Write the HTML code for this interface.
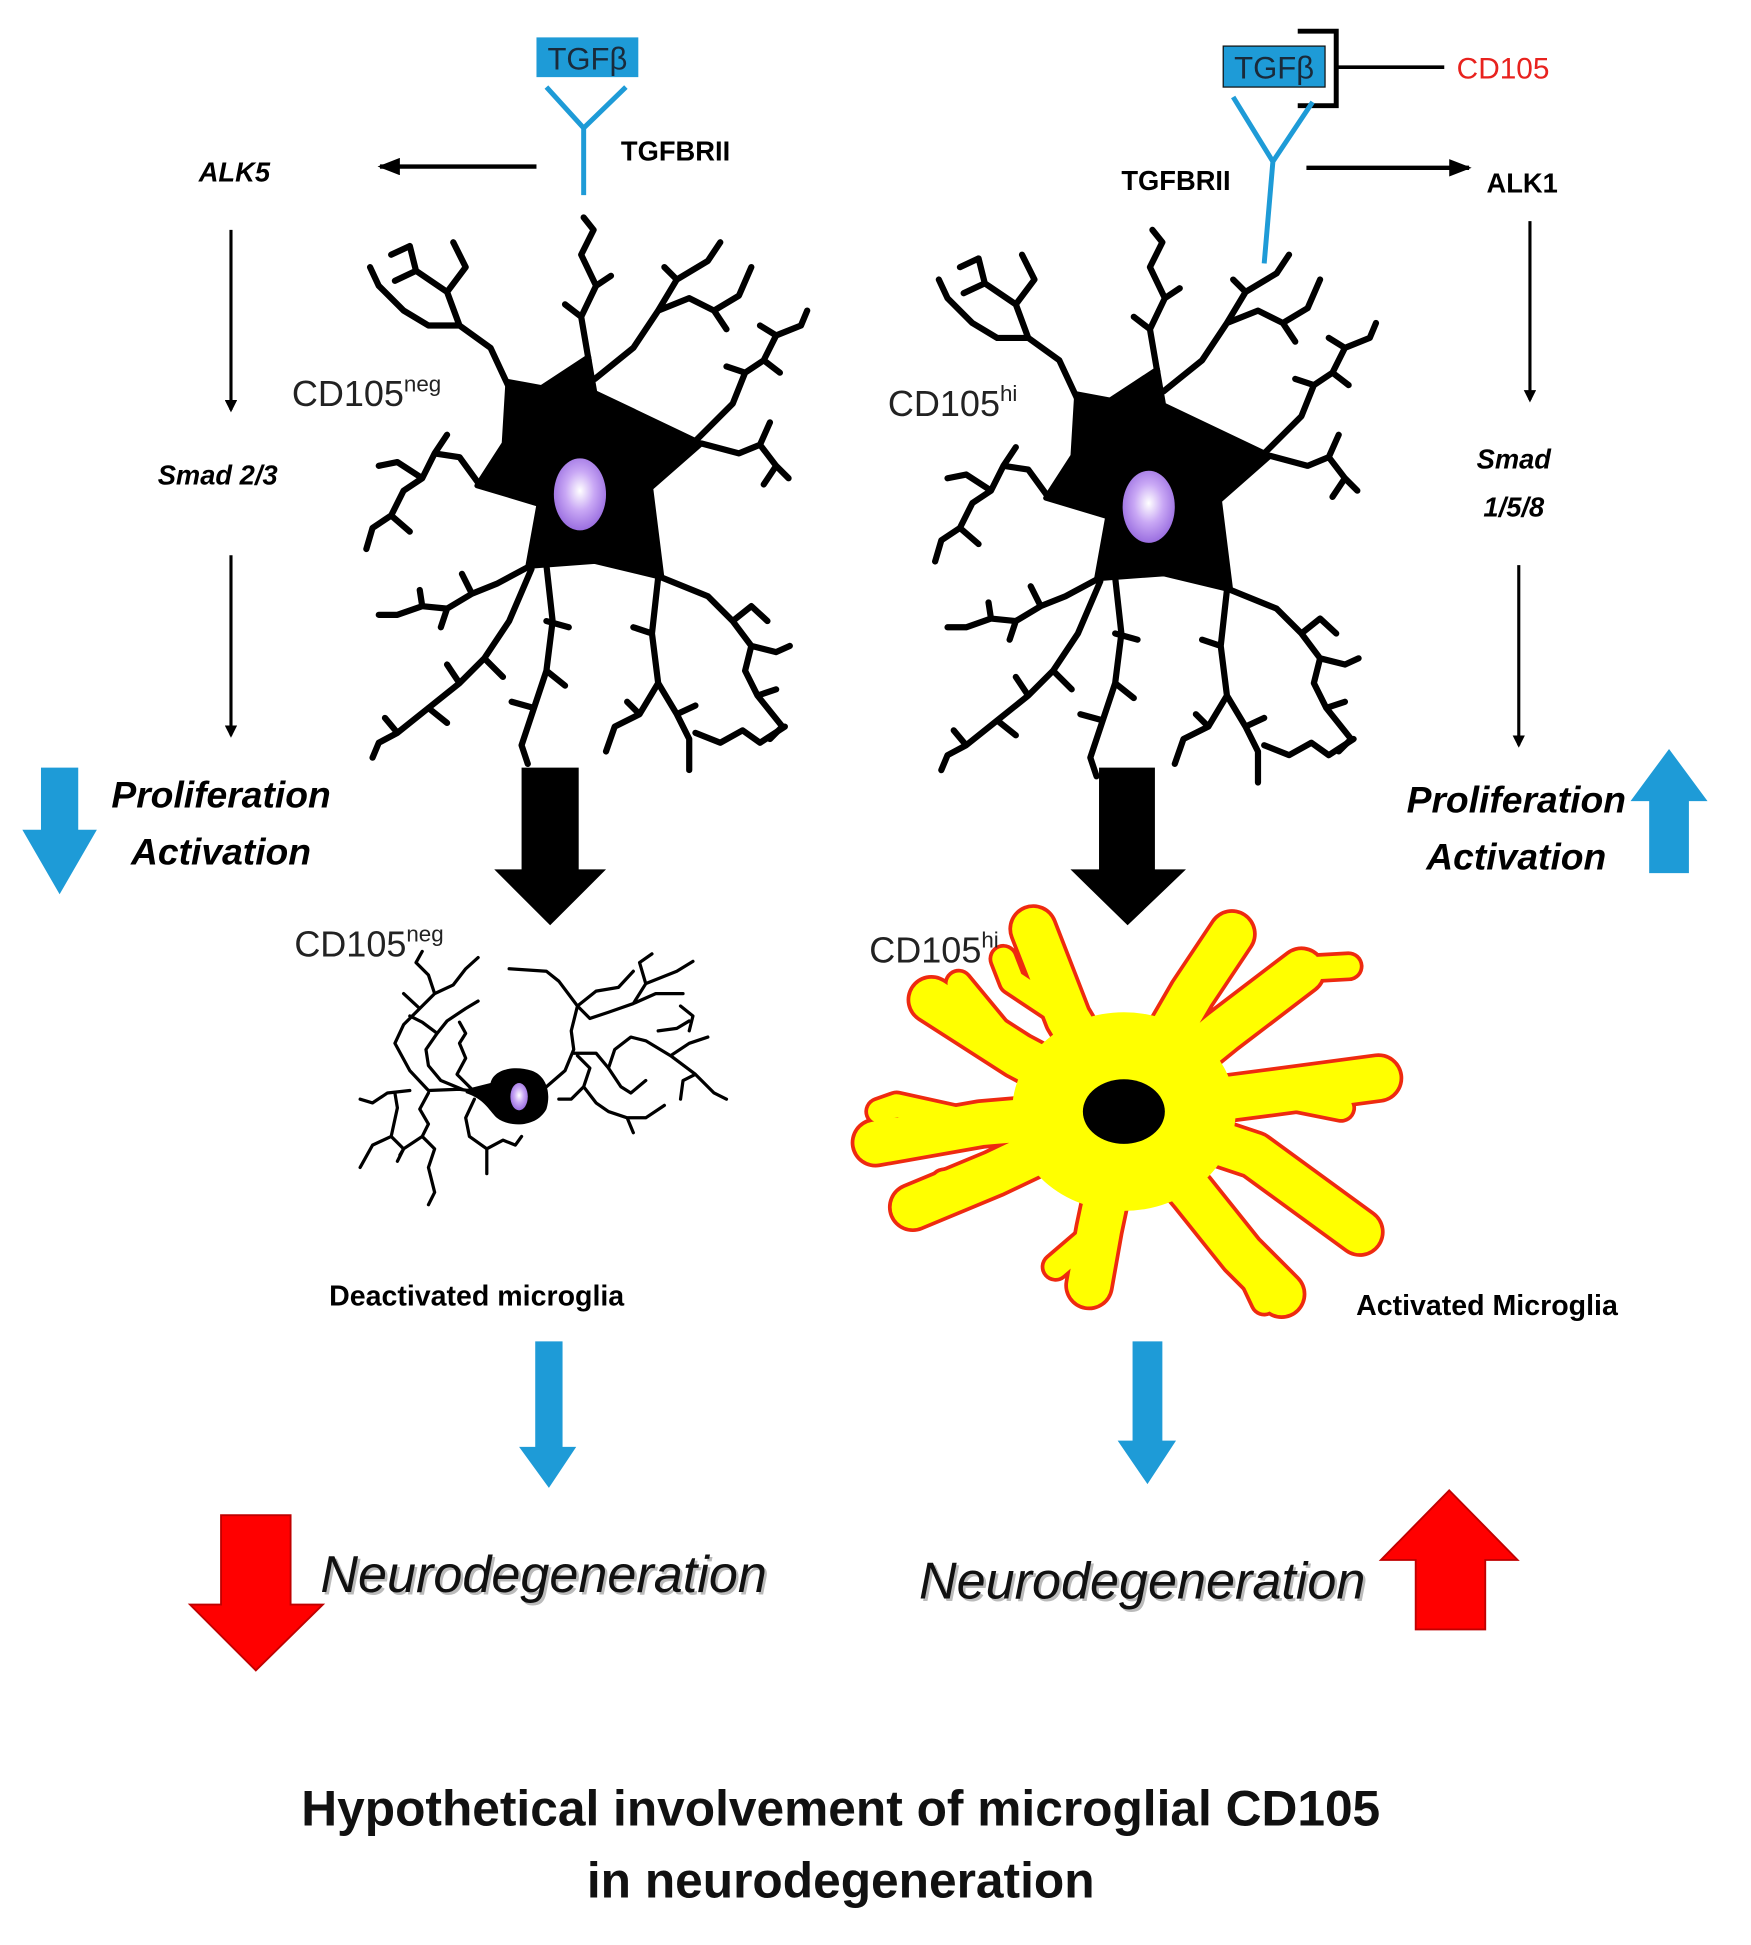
<!DOCTYPE html>
<html><head><meta charset="utf-8"><style>
html,body{margin:0;padding:0;background:#fff}
svg{display:block}
text{font-family:"Liberation Sans",sans-serif}
</style></head><body>
<svg width="1751" height="1945" viewBox="0 0 1410 1566" xmlns="http://www.w3.org/2000/svg">
<defs>
<radialGradient id="nuc" cx="50%" cy="45%" r="55%"><stop offset="0" stop-color="#fff"/><stop offset="0.5" stop-color="#c9a8f5"/><stop offset="1" stop-color="#9a6ee0"/></radialGradient>
<marker id="ah" markerWidth="10" markerHeight="10" refX="8" refY="5" orient="auto" markerUnits="userSpaceOnUse"><path d="M0,0 L10,5 L0,10 Z" fill="#000"/></marker>
<marker id="ah2" markerWidth="18" markerHeight="14" refX="16" refY="7" orient="auto" markerUnits="userSpaceOnUse"><path d="M0,0 L18,7 L0,14 Z" fill="#000"/></marker>
<g id="neuron">
<g fill="none" stroke="#000" stroke-width="5" stroke-linecap="round" stroke-linejoin="round">
<path d="M409,310 L395,280 L370,262 L360,235 L335,218 L330,198 L315,205 M360,235 L375,215 L365,195 M370,262 L345,262 L325,250 L305,230 L298,215 M335,218 L318,226"/>
<path d="M474,290 L468,255 L480,230 L468,205 L478,185 L470,175 M468,255 L455,245 M480,230 L492,222"/>
<path d="M479,305 L510,280 L530,250 L545,225 L570,210 L580,195 M530,250 L555,240 L575,250 L595,238 L605,215 M545,225 L535,215 M575,250 L585,265"/>
<path d="M560,355 L590,325 L600,300 L615,290 L625,270 L645,262 L650,250 M600,300 L585,295 M615,290 L628,300 M625,270 L612,262"/>
<path d="M565,357 L595,365 L612,358 L625,375 L635,385 M612,358 L620,340 M625,375 L615,390"/>
<path d="M386,390 L370,368 L350,365 L340,385 L325,395 L315,415 L300,425 L295,442 M340,385 L320,372 L305,375 M315,415 L330,428 M350,365 L360,350"/>
<path d="M428,455 L400,470 L380,478 L360,490 L340,488 L320,495 L305,495 M360,490 L355,505 M380,478 L372,462 M340,488 L338,475"/>
<path d="M428,458 L410,500 L390,530 L370,550 L345,570 L320,590 L305,598 L300,610 M390,530 L405,545 M370,550 L360,535 M345,570 L360,582 M320,590 L310,578"/>
<path d="M440,455 L445,500 L440,540 L430,570 L420,600 L425,615 M440,500 L458,505 M440,540 L455,552 M430,570 L412,565"/>
<path d="M530,465 L525,510 L530,550 L515,575 L495,585 L488,605 M530,550 L545,575 L555,595 L555,620 M515,575 L505,565 M525,510 L510,505 M545,575 L560,568"/>
<path d="M533,465 L570,480 L590,500 L605,520 L625,525 L636,520 M590,500 L605,488 L618,500 M605,520 L600,540 L610,560 L630,585 M610,560 L625,555 M630,585 L620,595"/>
<path d="M560,590 L580,598 L598,588 L612,598 L632,585"/>
</g>
<path d="M409,307 L436,312 L474,287 L479,316 L565,357 L524,393 L533,465 L479,452 L425,456 L434,406 L384,391 L406,357 Z" fill="#000" stroke="#000" stroke-width="4" stroke-linejoin="round"/>
<ellipse cx="467" cy="398" rx="21" ry="29" fill="url(#nuc)"/>
</g>
</defs>

<!-- LEFT top -->
<rect x="432" y="30" width="82" height="32" fill="#1e9bd7"/>
<text x="473" y="56" font-size="25" text-anchor="middle" fill="#1a2a3a">TGFβ</text>
<path d="M440,70 L470,103 L504,70 M470,103 L470,157" fill="none" stroke="#1e9bd7" stroke-width="4"/>
<text x="500" y="129" font-size="22" font-weight="bold">TGFBRII</text>
<line x1="432" y1="134" x2="306" y2="134" stroke="#000" stroke-width="3.5" marker-end="url(#ah2)"/>
<text x="160" y="146" font-size="22" font-weight="bold" font-style="italic">ALK5</text>
<line x1="186" y1="185" x2="186" y2="330" stroke="#000" stroke-width="2.5" marker-end="url(#ah)"/>
<text x="127" y="390" font-size="22" font-weight="bold" font-style="italic">Smad 2/3</text>
<line x1="186" y1="447" x2="186" y2="592" stroke="#000" stroke-width="2.5" marker-end="url(#ah)"/>
<path d="M33,618 L63,618 L63,668 L78,668 L48,720 L18,668 L33,668 Z" fill="#1e9bd7"/>
<text x="178" y="650" font-size="30" font-weight="bold" font-style="italic" text-anchor="middle">Proliferation</text>
<text x="178" y="696" font-size="30" font-weight="bold" font-style="italic" text-anchor="middle">Activation</text>

<use href="#neuron"/>
<text x="235" y="327" font-size="29" fill="#222">CD105<tspan font-size="18" dy="-12">neg</tspan></text>
<path d="M420,618 L466,618 L466,700 L488,700 L443,745 L398,700 L420,700 Z" fill="#000"/>

<!-- deactivated -->
<text x="237" y="770" font-size="29" fill="#222">CD105<tspan font-size="18" dy="-12">neg</tspan></text>
<g fill="none" stroke="#000" stroke-width="2.6" stroke-linecap="round" stroke-linejoin="round">
<path d="M390,880 L370,877 L345,878 L330,862 L318,840 L325,825 L338,812 L350,800 L345,785 L335,775 L340,766 M350,800 L365,793 L375,780 L385,771 M338,812 L325,800"/>
<path d="M372,877 L355,870 L345,858 L343,845 L352,832 L360,822 L375,812 L385,806 M352,832 L340,823 L330,818"/>
<path d="M380,877 L368,865 L375,852 L370,840 L375,832 L370,823"/>
<path d="M330,878 L312,880 L300,888 L290,885 M318,880 L320,892 L315,915 L300,922 L290,940 M315,915 L325,925 L322,930"/>
<path d="M345,880 L338,893 L345,905 L340,915 L350,925 L345,940 L350,960 L345,970 M340,915 L325,925 L320,935"/>
<path d="M382,885 L375,900 L378,915 L392,925 L405,918 L415,922 L420,915 M392,925 L392,945"/>
<path d="M440,875 L455,862 L462,845 L460,830 L465,810 L450,790 L440,782 L410,780 M465,810 L480,798 L498,795 L510,782 M465,810 L475,820 L490,815 L510,808 L528,800 L550,800 M510,808 L520,792 L545,782 L558,774 M520,792 L515,775 L525,768"/>
<path d="M462,848 L480,848 L490,860 L500,875 L508,880 L520,870 M490,860 L495,845 L508,835 L520,838 L540,850 L560,865 L575,880 L585,885 M540,850 L555,840 L570,835 M560,865 L550,870 L548,885"/>
<path d="M465,850 L475,860 L470,875 L460,885 L450,885 M470,875 L480,888 L490,895 L505,900 L520,900 L535,890 M505,900 L510,912"/>
<path d="M530,830 L545,828 L555,822 M548,810 L558,818 L555,830"/>
</g>
<path d="M375,877 L395,872 C398,860 415,858 428,862 C440,866 444,880 440,893 C432,908 410,908 400,900 C393,893 390,885 375,880 Z" fill="#000"/>
<ellipse cx="418" cy="883" rx="7" ry="11" fill="url(#nuc)"/>
<text x="265" y="1051" font-size="23" font-weight="bold">Deactivated microglia</text>
<path d="M431,1080 L453,1080 L453,1165 L464,1165 L442,1198 L418,1165 L431,1165 Z" fill="#1e9bd7"/>
<path d="M178,1220 L234,1220 L234,1292 L260,1292 L206,1345 L153,1292 L178,1292 Z" fill="#ff0000" stroke="#c00000" stroke-width="1.5"/>
<text x="260" y="1284" font-size="42" font-style="italic" fill="#bbb">Neurodegeneration</text>
<text x="258" y="1282" font-size="42" font-style="italic" fill="#111">Neurodegeneration</text>

<!-- RIGHT top -->
<rect x="985" y="37" width="82" height="33" fill="#1e9bd7" stroke="#111" stroke-width="1"/>
<text x="1026" y="63" font-size="25" text-anchor="middle" fill="#1a2a3a">TGFβ</text>
<path d="M1045,25 L1076,25 L1076,85 L1045,85" fill="none" stroke="#000" stroke-width="4"/>
<line x1="1076" y1="54" x2="1163" y2="54" stroke="#000" stroke-width="3"/>
<text x="1173" y="63" font-size="24" fill="#e8221e">CD105</text>
<path d="M993,78 L1025,130 L1057,82 M1025,130 L1018,212" fill="none" stroke="#1e9bd7" stroke-width="4"/>
<text x="903" y="153" font-size="22" font-weight="bold">TGFBRII</text>
<line x1="1052" y1="135" x2="1183" y2="135" stroke="#000" stroke-width="3.5" marker-end="url(#ah2)"/>
<text x="1197" y="155" font-size="22" font-weight="bold">ALK1</text>
<line x1="1232" y1="178" x2="1232" y2="322" stroke="#000" stroke-width="2.5" marker-end="url(#ah)"/>
<text x="1219" y="377" font-size="22" font-weight="bold" font-style="italic" text-anchor="middle">Smad</text>
<text x="1219" y="416" font-size="22" font-weight="bold" font-style="italic" text-anchor="middle">1/5/8</text>
<line x1="1223" y1="455" x2="1223" y2="600" stroke="#000" stroke-width="2.5" marker-end="url(#ah)"/>
<text x="1221" y="654" font-size="30" font-weight="bold" font-style="italic" text-anchor="middle">Proliferation</text>
<text x="1221" y="700" font-size="30" font-weight="bold" font-style="italic" text-anchor="middle">Activation</text>
<path d="M1344,603 L1375,645 L1360,645 L1360,703 L1328,703 L1328,645 L1313,645 Z" fill="#1e9bd7"/>

<use href="#neuron" transform="translate(458,10)"/>
<text x="715" y="335" font-size="29" fill="#222">CD105<tspan font-size="18" dy="-12">hi</tspan></text>
<path d="M885,618 L930,618 L930,700 L955,700 L908,745 L862,700 L885,700 Z" fill="#000"/>

<!-- activated yellow cell -->
<g fill="none" stroke-linecap="round" stroke-linejoin="round">
<g stroke="#ee2a10">
<path stroke-width="40" d="M905,895 L860,820 L832,748 M905,895 L820,850 L750,805 M905,895 L790,905 L705,920 M905,895 L800,945 L735,972 M905,895 L885,990 L877,1035 M905,895 L960,960 L1000,1010 L1032,1042 M905,895 L1010,930 L1095,992 M905,895 L1020,880 L1110,868 M905,895 L985,830 L1048,782 M905,895 L960,800 L992,752"/>
<path stroke-width="24" d="M860,820 L815,790 L808,772 M820,850 L772,792 M790,905 L722,890 L708,895 M800,945 L760,952 M885,990 L850,1020 M1000,1010 L1018,1048 M1010,930 L1060,962 M1020,880 L1080,892 M985,830 L1030,800 L1040,790 M1050,780 L1086,778"/>
</g>
<g stroke="#ffff00">
<path stroke-width="34" d="M905,895 L860,820 L832,748 M905,895 L820,850 L750,805 M905,895 L790,905 L705,920 M905,895 L800,945 L735,972 M905,895 L885,990 L877,1035 M905,895 L960,960 L1000,1010 L1032,1042 M905,895 L1010,930 L1095,992 M905,895 L1020,880 L1110,868 M905,895 L985,830 L1048,782 M905,895 L960,800 L992,752"/>
<path stroke-width="18" d="M860,820 L815,790 L808,772 M820,850 L772,792 M790,905 L722,890 L708,895 M800,945 L760,952 M885,990 L850,1020 M1000,1010 L1018,1048 M1010,930 L1060,962 M1020,880 L1080,892 M985,830 L1030,800 L1040,790 M1050,780 L1086,778"/>
</g>
</g>
<ellipse cx="905" cy="895" rx="90" ry="80" fill="#ffff00"/>
<ellipse cx="905" cy="895" rx="33" ry="26" fill="#000"/>
<text x="700" y="775" font-size="29" fill="#222">CD105<tspan font-size="18" dy="-12">hi</tspan></text>
<text x="1092" y="1059" font-size="23" font-weight="bold">Activated Microglia</text>
<path d="M912,1080 L936,1080 L936,1160 L947,1160 L924,1195 L900,1160 L912,1160 Z" fill="#1e9bd7"/>
<text x="742" y="1289" font-size="42" font-style="italic" fill="#bbb">Neurodegeneration</text>
<text x="740" y="1287" font-size="42" font-style="italic" fill="#111">Neurodegeneration</text>
<path d="M1167,1200 L1222,1256 L1196,1256 L1196,1312 L1140,1312 L1140,1256 L1112,1256 Z" fill="#ff0000" stroke="#c00000" stroke-width="1.5"/>

<text x="677" y="1470" font-size="40" font-weight="bold" text-anchor="middle" fill="#111">Hypothetical involvement of microglial CD105</text>
<text x="677" y="1528" font-size="40" font-weight="bold" text-anchor="middle" fill="#111">in neurodegeneration</text>
</svg>
</body></html>
